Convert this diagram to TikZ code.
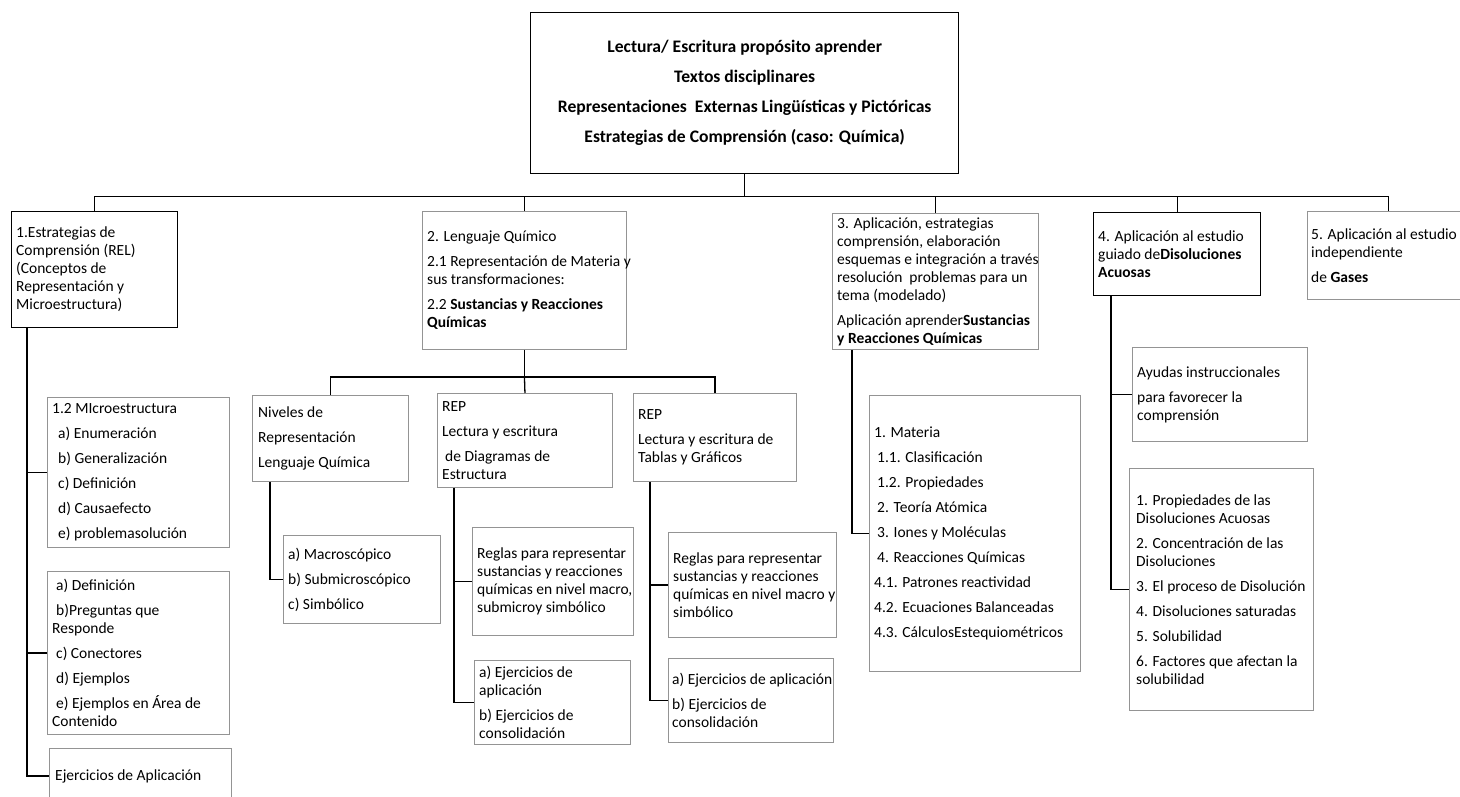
\documentclass[tikz,border=0pt]{standalone}
\usepackage{fontspec}
\setmainfont{Carlito}
\usetikzlibrary{positioning}

\newcommand\bodyfont{\fontsize{15.5}{18}\selectfont}
\newcommand\gap{\\[7pt]}
\newcommand\ind[1]{\hspace*{#1pt}}

\tikzset{
  lite/.style={draw=black!42, line width=0.9pt, inner sep=0pt, anchor=north west},
  dark/.style={draw=black, line width=1.3pt, inner sep=0pt, anchor=north west},
  txt/.style={anchor=west, inner sep=0pt, align=left, font=\bodyfont},
  link/.style={draw=black, line width=1.3pt},
}

\begin{document}
\begin{tikzpicture}[x=1pt, y=-1pt]
\useasboundingbox (0,0) rectangle (1460,797);
\fill[white] (0,0) rectangle (1460,797);

% ---- title box ----
\node[dark, minimum width=428, minimum height=161, align=center,
      font=\bfseries\fontsize{17.6}{30}\selectfont] (top) at (530,12)
  {Lectura/ Escritura propósito aprender\\
   Textos disciplinares\\
   Representaciones \ Externas Lingüísticas y Pictóricas\\
   Estrategias de Comprensión (caso: Química)};

% ---- first level ----
\node[dark, minimum width=166, minimum height=116] (b1) at (11,211) {};
\node[txt] (b1t) at ([xshift=5pt]b1.west)
  {1.Estrategias de\\ Comprensión (REL)\\ (Conceptos de\\ Representación y\\ Microestructura)};

\node[lite, minimum width=204, minimum height=138] (b2) at (422,211) {};
\node[txt] (b2t) at ([xshift=5pt]b2.west)
  {2. Lenguaje Químico\gap
   2.1 Representación de Materia y\\ sus transformaciones:\gap
   2.2 \textbf{Sustancias y Reacciones}\\ \textbf{Químicas}};

\node[lite, minimum width=206, minimum height=136] (b3) at (832,213) {};
\node[txt] (b3t) at ([xshift=5pt]b3.west)
  {3. Aplicación, estrategias\\ comprensión, elaboración\\ esquemas e integración a través\\
   resolución \ problemas para un\\ tema (modelado)\gap
   Aplicación aprender\textbf{Sustancias}\\ \textbf{y Reacciones Químicas}};

\node[dark, minimum width=167, minimum height=83] (b4) at (1093,212) {};
\node[txt] (b4t) at ([xshift=5pt]b4.west)
  {4. Aplicación al estudio\\ guiado de\textbf{Disoluciones}\\ \textbf{Acuosas}};

\node[lite, minimum width=162, minimum height=88] (b5) at (1307,211) {};
\node[txt] (b5t) at ([xshift=4pt]b5.west)
  {5. Aplicación al estudio\\ independiente\gap de \textbf{Gases}};

% ---- branch 1 ----
\node[lite, minimum width=182, minimum height=150] (micro) at (47,397) {};
\node[txt] (microt) at ([xshift=5pt]micro.west)
  {1.2 MIcroestructura\gap
   \ind{6}a) Enumeración\gap
   \ind{6}b) Generalización\gap
   \ind{6}c) Definición\gap
   \ind{6}d) Causaefecto\gap
   \ind{6}e) problemasolución};

\node[lite, minimum width=182, minimum height=163] (def) at (47,571) {};
\node[txt] (deft) at ([xshift=5pt]def.west)
  {\ind{4}a) Definición\gap
   \ind{4}b)Preguntas que\\ Responde\gap
   \ind{4}c) Conectores\gap
   \ind{4}d) Ejemplos\gap
   \ind{4}e) Ejemplos en Área de\\ Contenido};

\node[lite, minimum width=182, minimum height=55] (ejer) at (49,748) {};
\node[txt] (ejert) at ([xshift=6pt]ejer.west) {Ejercicios de Aplicación};

% ---- branch 2 ----
\node[lite, minimum width=156, minimum height=86] (niv) at (252,395) {};
\node[txt] (nivt) at ([xshift=6pt]niv.west)
  {Niveles de\gap Representación\gap Lenguaje Química};

\node[lite, minimum width=175, minimum height=94] (diag) at (437,393) {};
\node[txt] (diagt) at ([xshift=5pt]diag.west)
  {REP\gap Lectura y escritura\gap \ind{3}de Diagramas de\\ Estructura};

\node[lite, minimum width=163, minimum height=88] (tab) at (633,393) {};
\node[txt] (tabt) at ([xshift=5pt]tab.west)
  {REP\gap Lectura y escritura de\\ Tablas y Gráficos};

\node[lite, minimum width=157, minimum height=88] (macro) at (283,535) {};
\node[txt] (macrot) at ([xshift=5pt]macro.west)
  {a) Macroscópico\gap b) Submicroscópico\gap c) Simbólico};

\node[lite, minimum width=161, minimum height=108] (reg1) at (472,527) {};
\node[txt] (reg1t) at ([xshift=5pt]reg1.west)
  {Reglas para representar\\ sustancias y reacciones\\ químicas en nivel macro,\\ submicroy simbólico};

\node[lite, minimum width=156, minimum height=84] (ej1) at (474,660) {};
\node[txt] (ej1t) at ([xshift=5pt]ej1.west)
  {a) Ejercicios de\\ aplicación\gap b) Ejercicios de\\ consolidación};

\node[lite, minimum width=168, minimum height=105] (reg2) at (668,532) {};
\node[txt] (reg2t) at ([xshift=5pt]reg2.west)
  {Reglas para representar\\ sustancias y reacciones\\ químicas en nivel macro y\\ simbólico};

\node[lite, minimum width=165, minimum height=84] (ej2) at (668,658) {};
\node[txt] (ej2t) at ([xshift=4pt]ej2.west)
  {a) Ejercicios de aplicación\gap b) Ejercicios de\\ consolidación};

% ---- branch 3 ----
\node[lite, minimum width=211, minimum height=276] (mat) at (869,395) {};
\node[txt] (matt) at ([xshift=5pt]mat.west)
  {1. Materia\gap
   \ind{3}1.1. Clasificación\gap
   \ind{3}1.2. Propiedades\gap
   \ind{3}2. Teoría Atómica\gap
   \ind{3}3. Iones y Moléculas\gap
   \ind{3}4. Reacciones Químicas\gap
   4.1. Patrones reactividad\gap
   4.2. Ecuaciones Balanceadas\gap
   4.3. CálculosEstequiométricos};

% ---- branch 4 ----
\node[lite, minimum width=175, minimum height=94] (ayu) at (1132,347) {};
\node[txt] (ayut) at ([xshift=5pt]ayu.west)
  {Ayudas instruccionales\gap para favorecer la\\ comprensión};

\node[lite, minimum width=184, minimum height=242] (dis) at (1129,468) {};
\node[txt] (dist) at ([xshift=7pt]dis.west)
  {1. Propiedades de las\\ Disoluciones Acuosas\gap
   2. Concentración de las\\ Disoluciones\gap
   3. El proceso de Disolución\gap
   4. Disoluciones saturadas\gap
   5. Solubilidad\gap
   6. Factores que afectan la\\ solubilidad};

% ---- junctions ----
\coordinate (J)  at ([yshift=-22pt]top.south);
\coordinate (J2) at ([yshift=-27pt]b2.south);
\coordinate (v1) at ([xshift=16pt]b1.south west);
\coordinate (v2) at ([xshift=18pt]niv.south west);
\coordinate (v3) at ([xshift=17pt]diag.south west);
\coordinate (v4) at ([xshift=17pt]tab.south west);
\coordinate (v5) at ([xshift=20pt]b3.south west);
\coordinate (v6) at ([xshift=18pt]b4.south west);

% ---- connectors ----
\draw[link] (top.south) -- (J);
\draw[link] (b1.north) |- (J) -| (b5.north);
\draw[link] (J -| b2.north) -- (b2.north);
\draw[link] (J -| b3.north) -- (b3.north);
\draw[link] (J -| b4.north) -- (b4.north);

\draw[link] (v1) |- (ejer.west);
\draw[link] (v1 |- micro.west) -- (micro.west);
\draw[link] (v1 |- def.west) -- (def.west);

\draw[link] (b2.south) -- (J2);
\draw[link] (niv.north) |- (J2) -| (tab.north);
\draw[link] (J2) -- (diag.north);

\draw[link] (v2) |- (macro.west);
\draw[link] (v3) |- (ej1.west);
\draw[link] (v3 |- reg1.west) -- (reg1.west);
\draw[link] (v4) |- (ej2.west);
\draw[link] (v4 |- reg2.west) -- (reg2.west);

\draw[link] (v5) |- (mat.west);

\draw[link] (v6) |- (dis.west);
\draw[link] (v6 |- ayu.west) -- (ayu.west);
\end{tikzpicture}
\end{document}
